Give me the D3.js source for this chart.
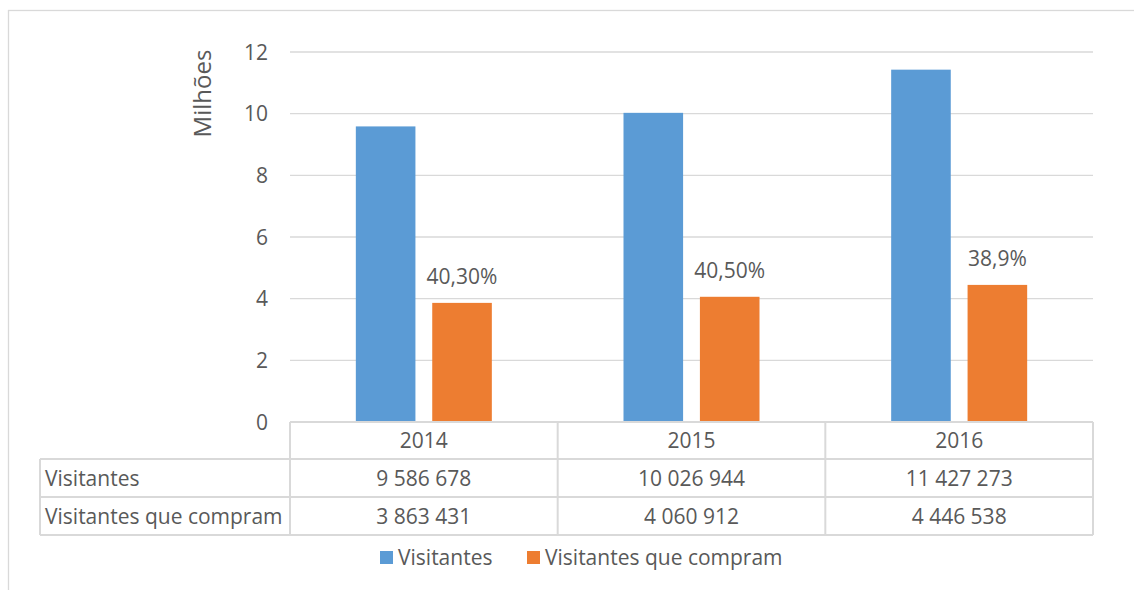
<!DOCTYPE html>
<html>
<head>
<meta charset="utf-8">
<script src="https://cdn.jsdelivr.net/npm/d3@7"></script>
<style>
  html, body { margin: 0; padding: 0; background: #fff; }
  svg { display: block; }
  text { font-family: "Open Sans", "Noto Sans", sans-serif; fill: #595959; }
</style>
</head>
<body>
<svg id="chart" width="1134" height="590"></svg>
<script>
// Anos e séries
const years = ["2014", "2015", "2016"];
const seriesNames = ["Visitantes", "Visitantes que compram"];
const visitantes = [9586678, 10026944, 11427273];
const compradores = [3863431, 4060912, 4446538];
const shareLabels = ["40,30%", "40,50%", "38,9%"];
const yTicks = [0, 2, 4, 6, 8, 10, 12];
const colors = ["#5B9BD5", "#ED7D31"];

const svg = d3.select("#chart");
const W = 1134, H = 590;
const plot = { left: 290, right: 1093, top: 52, bottom: 422 };
const table = { left: 40, rowH: [37, 38, 38] };
const grid = "#D9D9D9";
const fs = "21px";

// moldura do gráfico
svg.append("rect")
  .attr("x", 8.5).attr("y", 10.5)
  .attr("width", W).attr("height", H)
  .attr("fill", "none").attr("stroke", grid).attr("stroke-width", 1.3);

const x0 = d3.scaleBand().domain(years).range([plot.left, plot.right]).padding(0);
const cw = x0.bandwidth();
const x1 = d3.scaleBand().domain(seriesNames)
  .range([cw / 2 - 68, cw / 2 + 68]).paddingInner(0.22);
const y = d3.scaleLinear().domain([0, 12]).range([plot.bottom, plot.top]);

// linhas de grade
svg.append("g").selectAll("line")
  .data(yTicks.filter(t => t > 0))
  .join("line")
  .attr("x1", plot.left).attr("x2", plot.right)
  .attr("y1", d => y(d)).attr("y2", d => y(d))
  .attr("stroke", grid).attr("stroke-width", 1.3);

// eixo vertical (rótulos)
const yAxis = d3.axisLeft(y).tickValues(yTicks).tickSize(0).tickPadding(0);
const gy = svg.append("g").attr("transform", `translate(${plot.left - 22},0)`).call(yAxis);
gy.select(".domain").remove();
gy.selectAll("text")
  .style("font-size", fs)
  .style("font-family", '"Open Sans", sans-serif')
  .attr("fill", "#595959")
  .attr("dy", "0.34em");

svg.append("text")
  .attr("transform", `translate(211,${(50 + 137) / 2}) rotate(-90)`)
  .attr("text-anchor", "middle")
  .style("font-size", "24px")
  .text("Milhões");

// barras
const rows = years.map((yr, i) => ({ year: yr, vals: [visitantes[i], compradores[i]], label: shareLabels[i] }));
const groups = svg.append("g").selectAll("g")
  .data(rows).join("g")
  .attr("transform", d => `translate(${x0(d.year)},0)`);

groups.selectAll("rect")
  .data(d => d.vals.map((v, k) => ({ k, v: v / 1e6 })))
  .join("rect")
  .attr("x", d => x1(seriesNames[d.k]))
  .attr("width", x1.bandwidth())
  .attr("y", d => y(d.v))
  .attr("height", d => y(0) - y(d.v))
  .attr("fill", d => colors[d.k]);

// percentagem de visitantes que compram
groups.append("text")
  .attr("x", x1(seriesNames[1]) + x1.bandwidth() / 2)
  .attr("y", (d, i) => y(compradores[i] / 1e6) - 19)
  .attr("text-anchor", "middle")
  .style("font-size", fs)
  .text(d => d.label);

// tabela de dados
const rowTops = [plot.bottom, plot.bottom + table.rowH[0], plot.bottom + table.rowH[0] + table.rowH[1]];
const tableBottom = rowTops[2] + table.rowH[2];
const tg = svg.append("g");
const stroke = l => l.attr("stroke", grid).attr("stroke-width", 2);

// linhas horizontais
tg.append("line").attr("x1", plot.left).attr("x2", plot.right)
  .attr("y1", rowTops[0]).attr("y2", rowTops[0]).call(stroke);
[rowTops[1], rowTops[2], tableBottom].forEach(yy => {
  tg.append("line").attr("x1", table.left).attr("x2", plot.right)
    .attr("y1", yy).attr("y2", yy).call(stroke);
});
// linhas verticais
tg.append("line").attr("x1", table.left).attr("x2", table.left)
  .attr("y1", rowTops[1]).attr("y2", tableBottom).call(stroke);
[plot.left, ...years.map(yr => x0(yr) + cw)].forEach(xx => {
  tg.append("line").attr("x1", xx).attr("x2", xx)
    .attr("y1", rowTops[0]).attr("y2", tableBottom).call(stroke);
});

const fmt = v => d3.format(",")(v).replace(/,/g, " ");

// cabeçalho com os anos
tg.selectAll("text.year").data(years).join("text")
  .attr("class", "year")
  .attr("x", d => x0(d) + cw / 2)
  .attr("y", rowTops[0] + table.rowH[0] / 2)
  .attr("dy", "0.36em")
  .attr("text-anchor", "middle")
  .style("font-size", fs)
  .text(d => d);

const tableSeries = [visitantes, compradores];
tableSeries.forEach((vals, r) => {
  const cy = rowTops[r + 1] + table.rowH[r + 1] / 2;
  tg.append("text")
    .attr("x", table.left + 5).attr("y", cy).attr("dy", "0.36em")
    .style("font-size", fs)
    .text(seriesNames[r]);
  tg.selectAll(null).data(vals).join("text")
    .attr("x", (d, i) => x0(years[i]) + cw / 2)
    .attr("y", cy).attr("dy", "0.36em")
    .attr("text-anchor", "middle")
    .style("font-size", fs)
    .text(d => fmt(d));
});

// legenda
const legendX = [380, 527];
const lg = svg.append("g");
seriesNames.forEach((name, k) => {
  lg.append("rect")
    .attr("x", legendX[k]).attr("y", 551)
    .attr("width", 13).attr("height", 13)
    .attr("fill", colors[k]);
  lg.append("text")
    .attr("x", legendX[k] + 18).attr("y", 557.5).attr("dy", "0.36em")
    .style("font-size", fs)
    .text(name);
});
</script>
</body>
</html>
